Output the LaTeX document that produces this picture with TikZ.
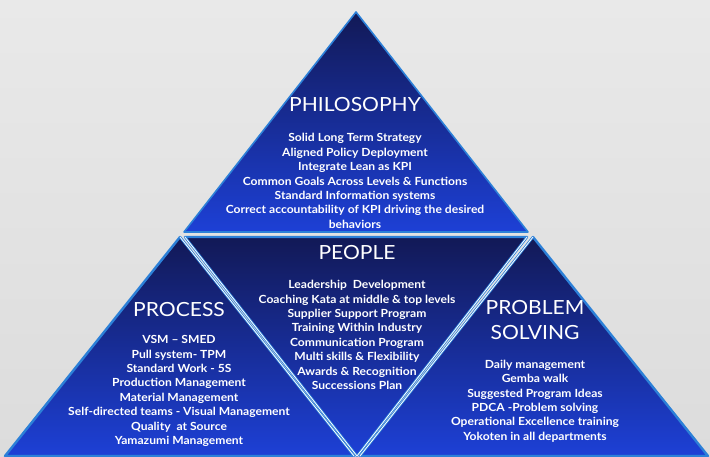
\documentclass[tikz,border=0pt]{standalone}
\usepackage{xcolor}
\usepackage{fontspec}
\setmainfont{Lato}[FakeStretch=1.08]
\usepackage{tikz}
\usetikzlibrary{positioning, calc}
\definecolor{navy}{HTML}{121956}
\definecolor{royal}{HTML}{1D40D6}
\definecolor{rim}{HTML}{2C80D8}
\definecolor{paper}{HTML}{E9E9E9}
\definecolor{paperlow}{HTML}{DCDCDC}
\tikzstyle{block} = [draw=rim, line width=1.6pt, line join=round, top color=navy, bottom color=royal]
\tikzstyle{glow} = [white, line width=0.8pt, line cap=round]
\tikzstyle{head} = [text=white, align=center, inner sep=0pt, font=\fontsize{19.5}{25}\selectfont]
\tikzstyle{items} = [text=white, align=center, inner sep=0pt, font=\bfseries\fontsize{11.2}{14.4}\selectfont]

\begin{document}
\begin{tikzpicture}[x=1pt, y=-1pt]
              \shade[top color=paper, bottom color=paperlow] (0,0) rectangle (710,456);
              \useasboundingbox (0,0) rectangle (710,456);

              % corners of the four triangles
              \coordinate (phi-top) at (356,12);
              \coordinate (phi-left) at (184,232);
              \coordinate (phi-right) at (528,232);
              \coordinate (pro-top) at (180,237);
              \coordinate (pro-left) at (5,456);
              \coordinate (pro-right) at (354,456);
              \coordinate (peo-left) at (185,237);
              \coordinate (peo-right) at (527,237);
              \coordinate (peo-bot) at (357,456);
              \coordinate (sol-top) at (533,237);
              \coordinate (sol-left) at (360,456);
              \coordinate (sol-right) at (708,456);

              \path[block] (phi-top) -- (phi-right) -- (phi-left) -- cycle;
              \path[block, line width=2.4pt] (pro-top) -- (pro-right) -- (pro-left) -- cycle;
              \path[block, line width=2.4pt] (peo-left) -- (peo-right) -- (peo-bot) -- cycle;
              \path[block, line width=2.4pt] (sol-top) -- (sol-right) -- (sol-left) -- cycle;

              \draw[glow] (pro-top) -- (pro-right);
              \draw[glow] (peo-left) -- (peo-bot) -- (peo-right);
              \draw[glow] (sol-left) -- (sol-top);

              \node[head] (phi-head) at (355,105) {PHILOSOPHY};
              \node[items] (phi-list) at (355,181) {Solid Long Term Strategy\\Aligned Policy Deployment\\Integrate Lean as KPI\\Common Goals Across Levels \& Functions\\Standard Information systems\\Correct accountability of KPI driving the desired\\behaviors};

              \node[head] (peo-head) at (357,253) {PEOPLE};
              \node[items] (peo-list) at (357,335) {Leadership\ \ Development\\Coaching Kata at middle \& top levels\\Supplier Support Program\\Training Within Industry\\Communication Program\\Multi skills \& Flexibility\\Awards \& Recognition\\Successions Plan};

              \node[head] (pro-head) at (179,310) {PROCESS};
              \node[items] (pro-list) at (179,391) {VSM -- SMED\\Pull system- TPM\\Standard Work - 5S\\Production Management\\Material Management\\Self-directed teams - Visual Management\\Quality\ \ at Source\\Yamazumi Management};

              \node[head] (sol-head) at (535,320) {PROBLEM\\SOLVING};
              \node[items] (sol-list) at (535,401) {Daily management\\Gemba walk\\Suggested Program Ideas\\PDCA -Problem solving\\Operational Excellence training\\Yokoten in all departments};
          \end{tikzpicture}
\end{document}
